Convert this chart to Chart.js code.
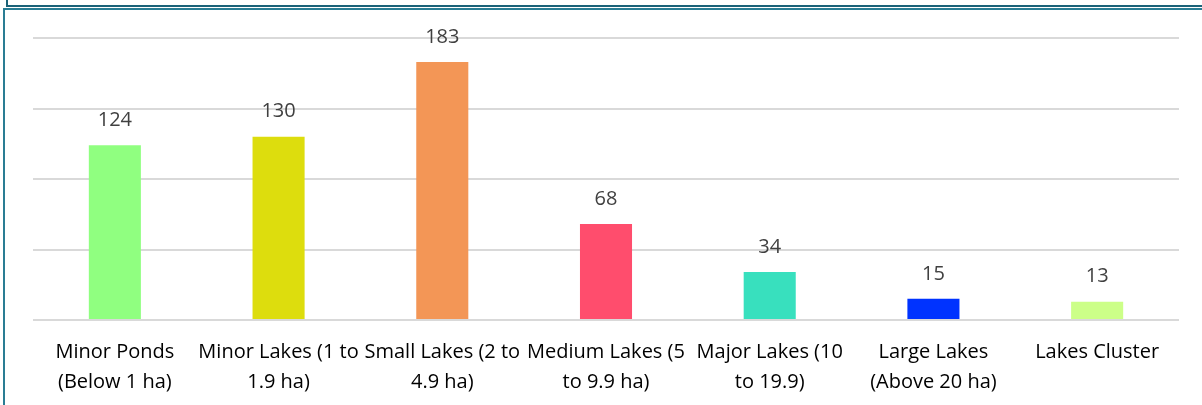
<!DOCTYPE html>
<html>
<head>
<meta charset="utf-8">
<script src="https://cdn.jsdelivr.net/npm/chart.js@4"></script>
<style>
  html, body { margin: 0; padding: 0; background: #fff; }
  #wrap { position: relative; width: 1202px; height: 405px; overflow: hidden; }
  canvas { position: absolute; left: 0; top: 0; }
  .ln { position: absolute; }
</style>
</head>
<body>
<div id="wrap">
  <canvas id="c" width="1202" height="405"></canvas>
  <div class="ln" style="left:6px; top:0px; width:2px; height:7px; background:#1b6278;"></div>
  <div class="ln" style="left:6px; top:5px; width:1196px; height:2px; background:#1b6278;"></div>
  <div class="ln" style="left:3px; top:8px; width:1199px; height:2px; background:#2a7d94;"></div>
  <div class="ln" style="left:3px; top:8px; width:2px; height:397px; background:#2a7d94;"></div>
</div>
<script>
const categories = [
  ["Minor Ponds", "(Below 1 ha)"],
  ["Minor Lakes (1 to", "1.9 ha)"],
  ["Small Lakes (2 to", "4.9 ha)"],
  ["Medium Lakes (5", "to 9.9 ha)"],
  ["Major Lakes (10", "to 19.9)"],
  ["Large Lakes", "(Above 20 ha)"],
  ["Lakes Cluster"]
];
const values = [124, 130, 183, 68, 34, 15, 13];
const barColors = ["#90FF80", "#DDDD0D", "#F39656", "#FF4D6D", "#38E0BE", "#0033FF", "#CCFF88"];
const yMax = 200;
const yStep = 50;

const FONT = "'Open Sans', 'Noto Sans', sans-serif";

const dataLabels = {
  id: 'dataLabels',
  afterDatasetsDraw(chart) {
    const ctx = chart.ctx;
    const meta = chart.getDatasetMeta(0);
    ctx.save();
    ctx.font = "20px " + FONT;
    ctx.fillStyle = "#404040";
    ctx.textAlign = "center";
    ctx.textBaseline = "middle";
    meta.data.forEach((bar, i) => {
      ctx.fillText(String(values[i]), bar.x, bar.y - 25);
    });
    ctx.restore();
  }
};

new Chart(document.getElementById('c'), {
  type: 'bar',
  data: {
    labels: categories,
    datasets: [{
      data: values,
      backgroundColor: barColors,
      borderWidth: 0,
      barPercentage: 0.318,
      categoryPercentage: 1.0
    }]
  },
  options: {
    responsive: false,
    animation: false,
    devicePixelRatio: 1,
    layout: { padding: { left: 33, right: 23, top: 38, bottom: 8 } },
    plugins: { legend: { display: false }, tooltip: { enabled: false } },
    scales: {
      x: {
        grid: { display: false, drawTicks: false },
        border: { display: false },
        ticks: {
          color: "#000000",
          font: { family: FONT, size: 20, lineHeight: 1.5 },
          padding: 17,
          maxRotation: 0,
          autoSkip: false
        },
        afterFit(scale) { scale.height = 77; }
      },
      y: {
        min: 0,
        max: yMax,
        ticks: { display: false, stepSize: yStep },
        grid: { color: "#d9d9d9", lineWidth: 2, drawTicks: false },
        border: { display: false }
      }
    }
  },
  plugins: [dataLabels]
});
</script>
</body>
</html>
